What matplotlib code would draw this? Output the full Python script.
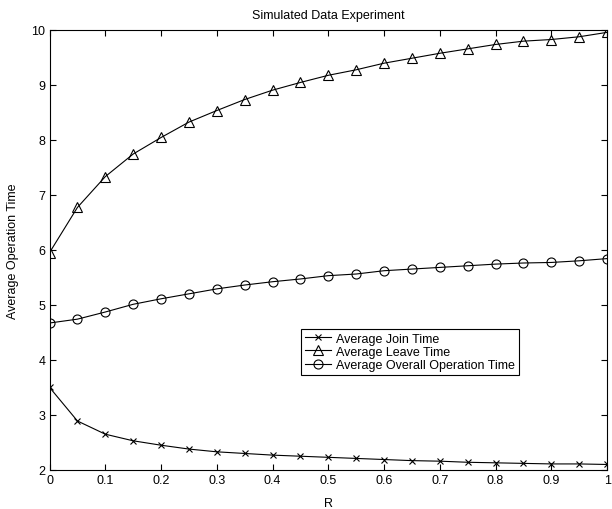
import matplotlib
matplotlib.use("Agg")
import matplotlib.pyplot as plt

plt.rcParams['font.family'] = ['Liberation Sans', 'DejaVu Sans']

R = [0.0, 0.05, 0.1, 0.15, 0.2, 0.25, 0.3, 0.35, 0.4, 0.45, 0.5,
     0.55, 0.6, 0.65, 0.7, 0.75, 0.8, 0.85, 0.9, 0.95, 1.0]
join_time = [3.50, 2.89, 2.65, 2.53, 2.45, 2.38, 2.33, 2.30, 2.27, 2.25, 2.23,
             2.21, 2.19, 2.17, 2.16, 2.14, 2.13, 2.12, 2.11, 2.11, 2.10]
leave_time = [5.95, 6.77, 7.33, 7.74, 8.04, 8.32, 8.53, 8.73, 8.90, 9.04, 9.17,
              9.27, 9.39, 9.48, 9.57, 9.65, 9.73, 9.79, 9.82, 9.87, 9.95]
overall_time = [4.67, 4.74, 4.87, 5.01, 5.11, 5.20, 5.29, 5.36, 5.42, 5.47, 5.53,
                5.56, 5.62, 5.65, 5.68, 5.71, 5.74, 5.76, 5.77, 5.80, 5.84]
labels = ["Average Join Time", "Average Leave Time", "Average Overall Operation Time"]

fig = plt.figure(figsize=(6.12, 5.10), dpi=100)
ax = fig.add_axes([0.081, 0.0765, 0.911, 0.8635])

lw = 0.8
ax.plot(R, join_time, color='black', lw=lw, marker='x', ms=4, mew=0.8, label=labels[0])
ax.plot(R, leave_time, color='black', lw=lw, marker='^', ms=6.5, mew=0.8,
        mfc='none', label=labels[1])
ax.plot(R, overall_time, color='black', lw=lw, marker='o', ms=6.5, mew=0.8,
        mfc='none', label=labels[2])

ax.set_xlim(0, 1)
ax.set_ylim(2, 10)
ax.set_xticks([0, 0.1, 0.2, 0.3, 0.4, 0.5, 0.6, 0.7, 0.8, 0.9, 1])
ax.set_xticklabels(['0', '0.1', '0.2', '0.3', '0.4', '0.5', '0.6', '0.7', '0.8', '0.9', '1'])
ax.set_yticks([2, 3, 4, 5, 6, 7, 8, 9, 10])
ax.tick_params(direction='in', top=True, right=True, length=4, width=0.8,
               labelsize=9, pad=3)
for s in ax.spines.values():
    s.set_linewidth(0.8)

ax.set_title("Simulated Data Experiment", fontsize=9, pad=8)
ax.set_xlabel("R", fontsize=9, labelpad=8)
ax.set_ylabel("Average Operation Time", fontsize=9, labelpad=9)

leg = ax.legend(loc='lower left', bbox_to_anchor=(0.451, 0.216), fontsize=9,
                frameon=True, fancybox=False, edgecolor='black', framealpha=1,
                handlelength=2.1, handletextpad=0.4, borderpad=0.3,
                labelspacing=0.1, borderaxespad=0)
leg.get_frame().set_linewidth(0.8)

fig.savefig("out.png", dpi=100)
